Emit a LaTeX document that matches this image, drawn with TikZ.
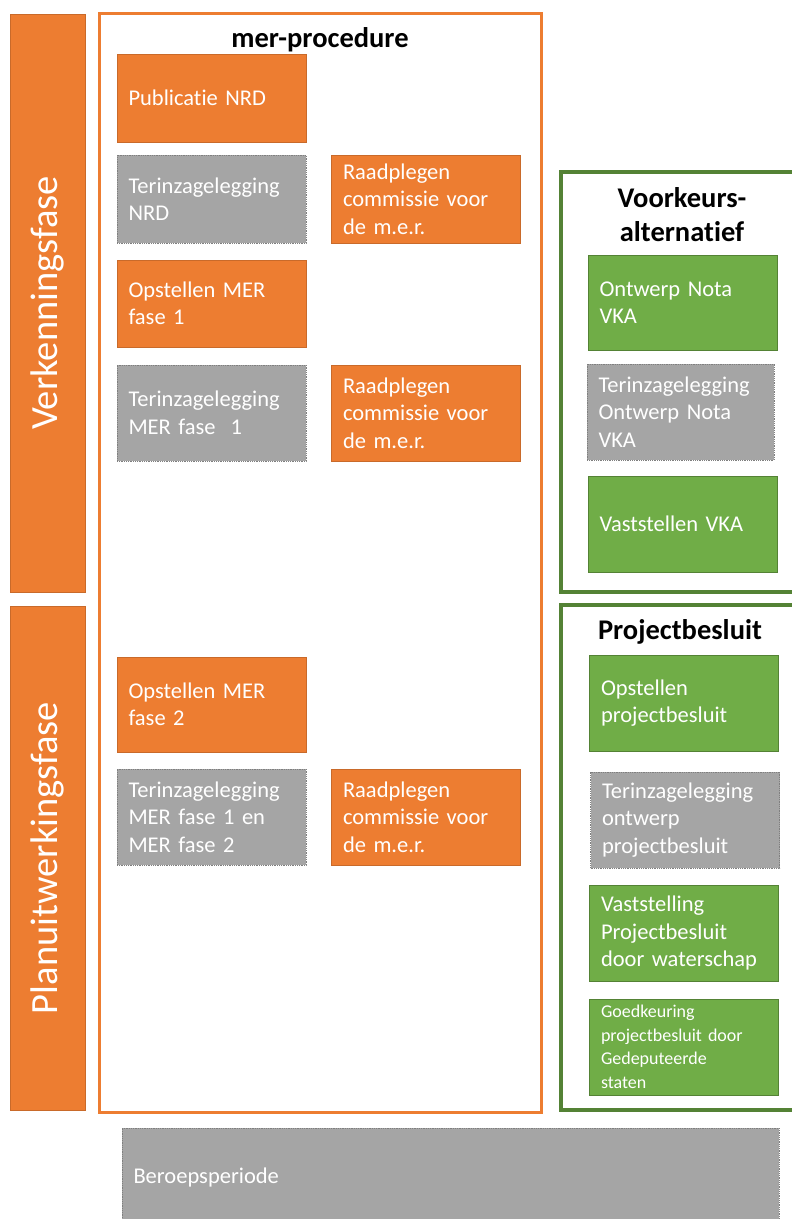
\documentclass[tikz,border=0pt]{standalone}
\usepackage{fontspec}
\setmainfont{Carlito}[Ligatures=NoCommon]
\usepackage{tikz}
\definecolor{mOrange}{HTML}{ED7D31}
\definecolor{mOrangeD}{HTML}{C96A2A}
\definecolor{mGray}{HTML}{A5A5A5}
\definecolor{mGrayD}{HTML}{7F7F7F}
\definecolor{mGreen}{HTML}{70AD47}
\definecolor{mGreenD}{HTML}{548235}
\tikzset{
  stap/.style={rectangle, minimum height=96pt, text width=166pt, inner xsep=11.5pt,
    align=left, text=white, font=\fontsize{22.5}{27.5}\selectfont, line width=0.8pt},
  oranje/.style={stap, fill=mOrange, draw=mOrangeD},
  grijs/.style={stap, fill=mGray, draw=mGrayD, densely dotted},
  groen/.style={stap, fill=mGreen, draw=mGreenD},
  fase/.style={rectangle, fill=mOrange, draw=mOrangeD, minimum width=75pt},
  fasetekst/.style={rotate=90, text=white, font=\fontsize{38.5}{40}\selectfont},
  kop/.style={font=\bfseries\fontsize{28.5}{34}\selectfont, align=center}
}
\begin{document}
\begin{tikzpicture}[x=1pt, y=-1pt]
  \useasboundingbox (0,0) rectangle (792,1219);
  \fill[white] (0,0) rectangle (792,1219);

  \node[fase, minimum height=578pt] (VF) at (47.5, 303) {};
  \node[fasetekst] (VFt) at (VF.center) {Verkenningsfase};
  \node[fase, minimum height=504pt] (PF) at (47.5, 858) {};
  \node[fasetekst] (PFt) at (PF.center) {Planuitwerkingsfase};

  \draw[mOrange, line width=3pt] (99,13) rectangle (541,1112);
  \node[kop] (MER) at (320, 40) {mer-procedure};

  \node[oranje, minimum height=88pt] (PNRD) at (211.5, 98) {Publicatie NRD};
  \node[grijs, minimum height=88pt] (TNRD) at (211.5, 199) {Terinzagelegging\\NRD};
  \node[oranje, minimum height=88pt] (RC1) at (426, 199) {Raadplegen\\commissie voor\\de m.e.r.};
  \node[oranje, minimum height=87pt] (OM1) at (211.5, 303.5) {Opstellen MER\\fase 1};
  \node[grijs] (TM1) at (211.5, 413) {Terinzagelegging\\MER fase~~1};
  \node[oranje] (RC2) at (426, 413) {Raadplegen\\commissie voor\\de m.e.r.};
  \node[oranje, minimum height=95pt] (OM2) at (211.5, 704.5) {Opstellen MER\\fase 2};
  \node[grijs] (TM2) at (211.5, 817) {Terinzagelegging\\MER fase 1 en\\MER fase 2};
  \node[oranje] (RC3) at (426, 817) {Raadplegen\\commissie voor\\de m.e.r.};

  \draw[mGreenD, line width=4pt] (561,172) rectangle (820,592);
  \node[kop] (VKA) at (682, 215) {Voorkeurs-\\alternatief};
  \node[groen, minimum height=95pt] (ONV) at (682.5, 302.5) {Ontwerp Nota\\VKA};
  \node[grijs, text width=164pt] (TONV) at (680.5, 412) {Terinzagelegging\\Ontwerp Nota\\VKA};
  \node[groen] (VVKA) at (682.5, 524) {Vaststellen VKA};

  \draw[mGreenD, line width=4pt] (561,605) rectangle (820,1110);
  \node[kop] (PB) at (680, 632) {Projectbesluit};
  \node[groen] (OPB) at (684, 703) {Opstellen\\projectbesluit};
  \node[grijs] (TPB) at (685, 820) {Terinzagelegging\\ontwerp\\projectbesluit};
  \node[groen] (VPB) at (684, 933) {Vaststelling\\Projectbesluit\\door waterschap};
  \node[groen, font=\fontsize{18}{23.5}\selectfont] (GPB) at (684, 1047) {Goedkeuring\\projectbesluit door\\Gedeputeerde\\staten};

  \node[grijs, minimum height=98pt, text width=634pt, font=\fontsize{22.5}{27.5}\selectfont] (BP) at (450.5, 1177) {Beroepsperiode};
\end{tikzpicture}
\end{document}
